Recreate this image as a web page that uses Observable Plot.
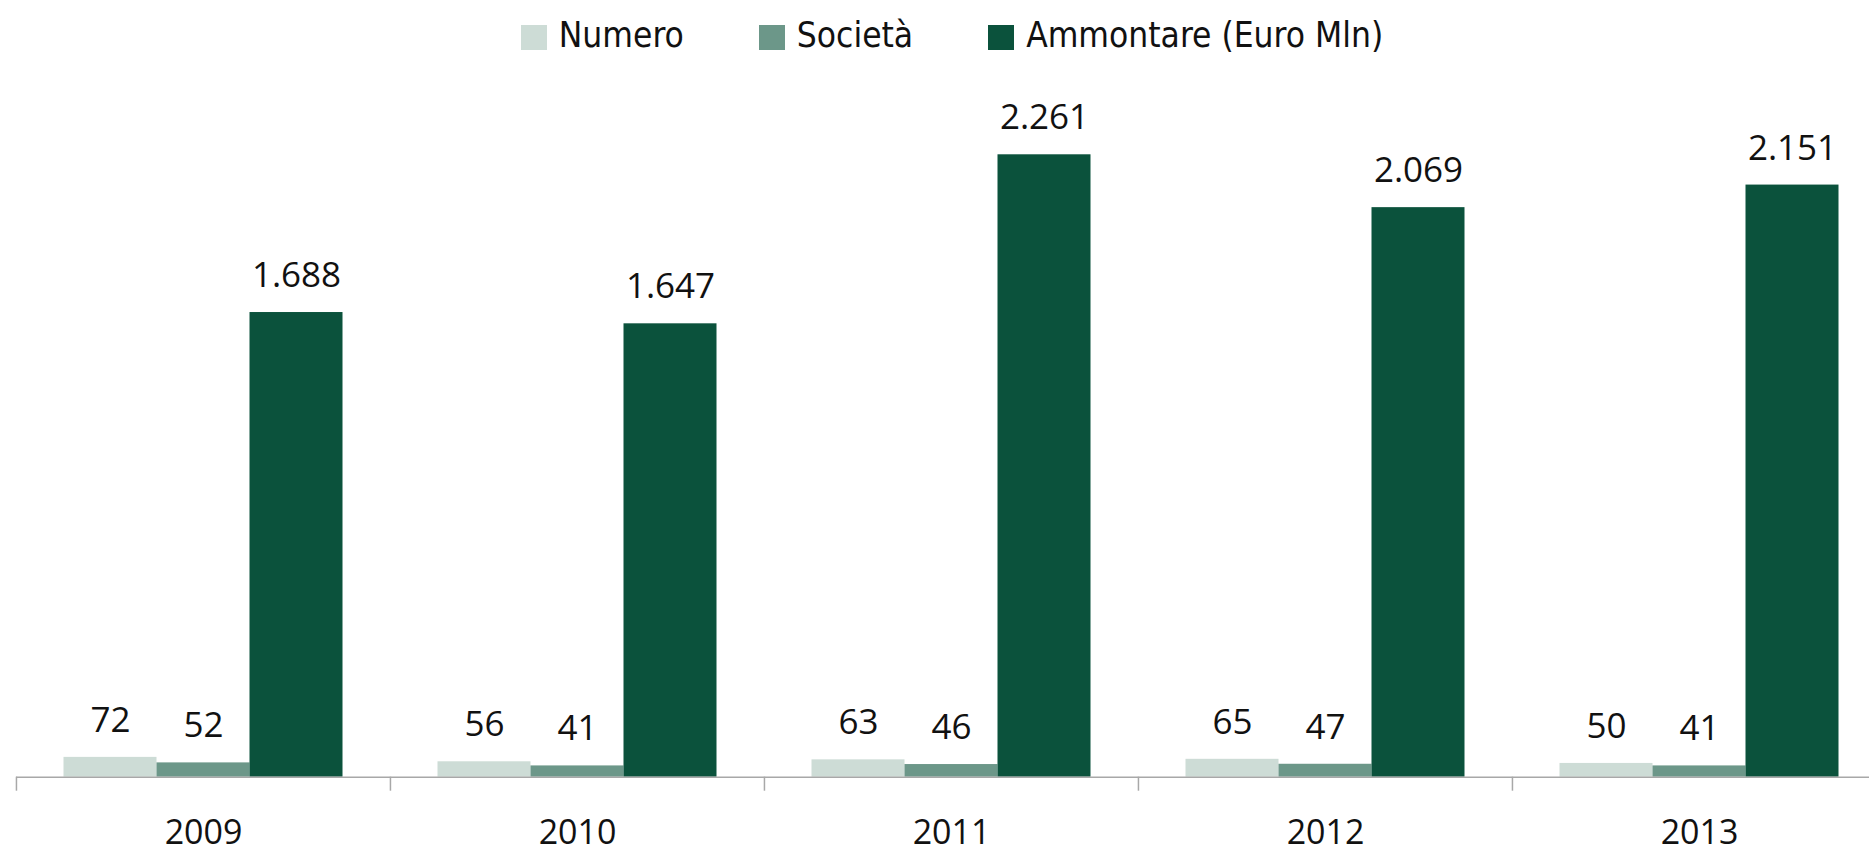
<!DOCTYPE html>
<html>
<head>
<meta charset="utf-8">
<script src="https://cdn.jsdelivr.net/npm/d3@7"></script>
<script src="https://cdn.jsdelivr.net/npm/@observablehq/plot@0.6"></script>
<style>
  html, body { margin: 0; padding: 0; background: #fff; overflow: hidden; }
  #wrap { width: 1888px; }
  #legend { height: 70px; display: flex; justify-content: center; align-items: center; gap: 75px; padding-left: 16px;
    font-family: "DejaVu Sans Condensed", "DejaVu Sans", sans-serif; font-stretch: condensed; font-size: 35px; color: #111; }
  #legend .item { display: flex; align-items: center; gap: 12px; }
  #legend .sw { width: 26px; height: 25px; display: inline-block; margin-top: 4px; }
</style>
</head>
<body>
<div id="wrap">
  <div id="legend"></div>
  <div id="chart"></div>
</div>
<script>
const years = ["2009", "2010", "2011", "2012", "2013"];
const seriesNames = ["Numero", "Società", "Ammontare (Euro Mln)"];
const numero = [72, 56, 63, 65, 50];
const societa = [52, 41, 46, 47, 41];
const ammontare = [1688, 1647, 2261, 2069, 2151];
const colors = ["#cddcd6", "#6c9789", "#0b523c"];

const valuesBySeries = [numero, societa, ammontare];
const data = [];
years.forEach((yr, i) => {
  seriesNames.forEach((s, j) => data.push({year: yr, series: s, value: valuesBySeries[j][i]}));
});

const fmt = d3.formatLocale({decimal: ",", thousands: ".", grouping: [3], currency: ["€", ""]}).format(",");

// legend
const legend = document.getElementById("legend");
seriesNames.forEach((s, j) => {
  const it = document.createElement("div");
  it.className = "item";
  const sw = document.createElement("span");
  sw.className = "sw";
  sw.style.background = colors[j];
  const tx = document.createElement("span");
  tx.textContent = s;
  it.appendChild(sw);
  it.appendChild(tx);
  legend.appendChild(it);
});

const chart = Plot.plot({
  width: 1888,
  height: 783,
  marginTop: 18.5,
  marginBottom: 76.3,
  marginLeft: 15.5,
  marginRight: 2,
  style: {fontFamily: "Open Sans, Noto Sans, sans-serif", fontSize: "35px", background: "white", color: "#111", overflow: "visible"},
  fx: {domain: years, padding: 0, label: null},
  x: {domain: seriesNames, paddingInner: 0, paddingOuter: 0.5, axis: null},
  y: {domain: [0, 2500], axis: null},
  color: {domain: seriesNames, range: colors},
  marks: [
    Plot.barY(data, {fx: "year", x: "series", y: "value", fill: "series"}),
    Plot.ruleY([0], {stroke: "#a8a8a8", strokeWidth: 1.5}),
    Plot.text(data, {fx: "year", x: "series", y: "value", text: d => fmt(d.value), lineAnchor: "bottom", dy: -25.5, fontSize: 35, fill: "#111"}),
    Plot.axisFx({anchor: "bottom", tickSize: 14, text: null, dx: -187.05, stroke: "#a8a8a8", strokeWidth: 1.5}),
    Plot.axisFx({anchor: "bottom", tickSize: 0, tickPadding: 43, fontSize: 34, label: null, fill: "#111"})
  ]
});
document.getElementById("chart").appendChild(chart);
</script>
</body>
</html>
